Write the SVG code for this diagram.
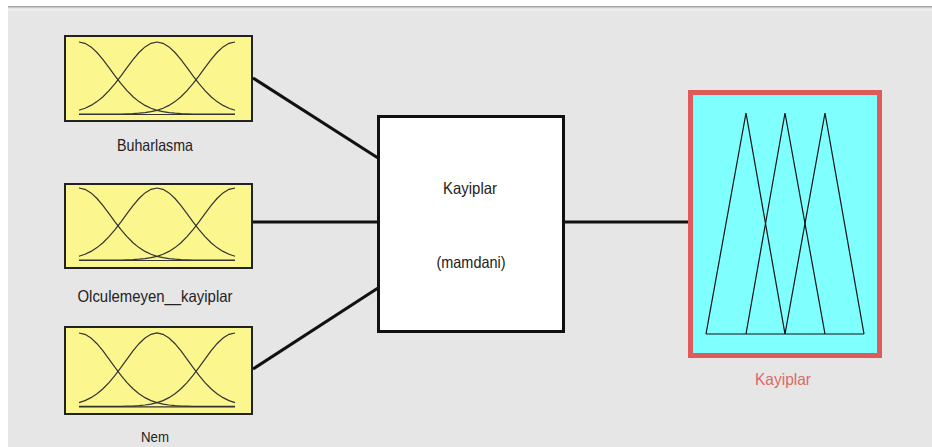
<svg xmlns="http://www.w3.org/2000/svg" xmlns:xlink="http://www.w3.org/1999/xlink" width="932" height="447" viewBox="0 0 932 447">
<style>
.lbl{font-family:"Liberation Sans",Arial,sans-serif;font-size:15px;fill:#222;text-anchor:middle}
.big{font-size:16.5px}
.in{fill:#fbf78e;stroke:#222;stroke-width:2}
.mf{fill:none;stroke:#333;stroke-width:1.2}
.con{stroke:#111;stroke-width:3;fill:none}
.tri{fill:none;stroke:#111;stroke-width:1.2}
</style>
<defs>
<g id="gauss">
<path class="mf" d="M0,0 L6,1.3 12,4.9 18,10.5 24,17.6 30,25.6 36,33.8 42,41.6 48,48.6 54,54.7 60,59.6 66,63.4 72,66.3 78,68.3 84,69.7 90,70.6 96,71.2 102,71.6 108,71.8 114,72 156,72"/>
<path class="mf" d="M0,68.3 L6,66.3 12,63.4 18,59.6 24,54.7 30,48.6 36,41.6 42,33.8 48,25.6 54,17.6 60,10.5 66,4.9 72,1.3 78,0 84,1.3 90,4.9 96,10.5 102,17.6 108,25.6 114,33.8 120,41.6 126,48.6 132,54.7 138,59.6 144,63.4 150,66.3 156,68.3"/>
<path class="mf" d="M0,72 L42,72 48,71.8 54,71.6 60,71.2 66,70.6 72,69.7 78,68.3 84,66.3 90,63.4 96,59.6 102,54.7 108,48.6 114,41.6 120,33.8 126,25.6 132,17.6 138,10.5 144,4.9 150,1.3 156,0"/>
<path class="mf" d="M0,72.5 L156,72.5"/>
</g>
</defs>
<rect x="0" y="0" width="932" height="447" fill="#ffffff"/>
<rect x="8" y="6" width="924" height="441" fill="#e6e6e6"/>
<rect x="8" y="6" width="924" height="1.5" fill="#a8a8a8"/>
<rect x="8" y="9" width="924" height="1.5" fill="#efefef"/>

<g id="connectors">
<line class="con" x1="253" y1="78" x2="378" y2="158"/>
<line class="con" x1="253" y1="222" x2="378" y2="222"/>
<line class="con" x1="253" y1="369" x2="378" y2="288"/>
<line class="con" x1="565" y1="222" x2="689" y2="222"/>
</g>

<g id="buharlasma">
<rect class="in" x="65" y="36" width="187" height="85"/>
<use xlink:href="#gauss" transform="translate(79,42)"/>
<text class="lbl big" x="155" y="151" textLength="76" lengthAdjust="spacingAndGlyphs">Buharlasma</text>
</g>

<g id="olculemeyen">
<rect class="in" x="65" y="184" width="187" height="84"/>
<use xlink:href="#gauss" transform="translate(79,188)"/>
<text class="lbl big" x="155" y="302" textLength="155" lengthAdjust="spacingAndGlyphs">Olculemeyen__kayiplar</text>
</g>

<g id="nem">
<rect class="in" x="65" y="327" width="187" height="87"/>
<use xlink:href="#gauss" transform="translate(79,333) scale(1,1.02)"/>
<text class="lbl" x="155" y="442" textLength="28" lengthAdjust="spacingAndGlyphs">Nem</text>
</g>

<g id="system">
<rect x="378.5" y="116.5" width="185" height="215" fill="#ffffff" stroke="#111" stroke-width="3"/>
<text class="lbl big" x="470" y="194" textLength="54" lengthAdjust="spacingAndGlyphs">Kayiplar</text>
<text class="lbl big" x="471" y="268" textLength="69" lengthAdjust="spacingAndGlyphs">(mamdani)</text>
</g>

<g id="output">
<rect x="690.5" y="92.5" width="189" height="263" fill="#80ffff" stroke="#e05a5a" stroke-width="5"/>
<polyline class="tri" points="706,334 746,113 785,334"/>
<polyline class="tri" points="746,334 785,113 825,334"/>
<polyline class="tri" points="785,334 825,113 864,334"/>
<line class="tri" x1="706" y1="334" x2="864" y2="334"/>
<text class="lbl big" x="783" y="385" style="fill:#e06666" textLength="56" lengthAdjust="spacingAndGlyphs">Kayiplar</text>
</g>
</svg>
